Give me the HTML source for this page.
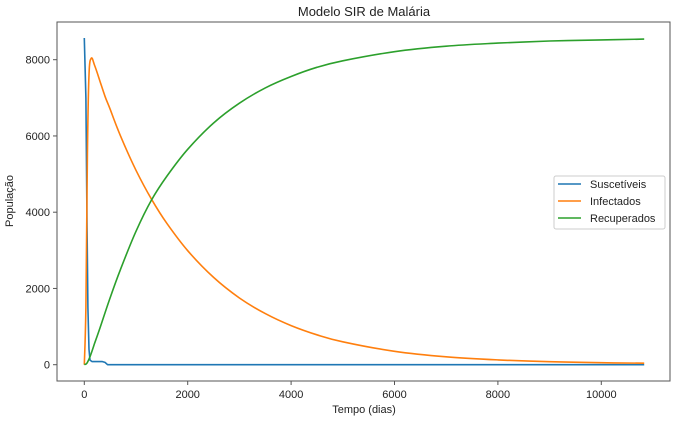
<!DOCTYPE html>
<html><head><meta charset="utf-8"><style>
body{margin:0;background:#fff;width:678px;height:419px;overflow:hidden}
text{font-family:"Liberation Sans","DejaVu Sans",sans-serif;fill:#222}
</style></head><body>
<svg id="chart" width="678" height="419" xmlns="http://www.w3.org/2000/svg">
<text x="364" y="16" text-anchor="middle" font-size="13">Modelo SIR de Malária</text>
<g id="plot"></g>
<rect x="57" y="22" width="613" height="359" fill="none" stroke="#555" stroke-width="1"/>
<text x="364" y="413" text-anchor="middle" font-size="11">Tempo (dias)</text>
<text transform="translate(13,201) rotate(-90)" text-anchor="middle" font-size="11">População</text>
<g>
<rect x="554" y="176" width="111" height="53" rx="2" fill="#fff" stroke="#ccc"/>
<line x1="558" x2="581" y1="184" y2="184" stroke="#1f77b4" stroke-width="1.5"/>
<text x="590" y="188" font-size="11">Suscetíveis</text>
<line x1="558" x2="581" y1="201" y2="201" stroke="#ff7f0e" stroke-width="1.5"/>
<text x="590" y="205" font-size="11">Infectados</text>
<line x1="558" x2="581" y1="218" y2="218" stroke="#2ca02c" stroke-width="1.5"/>
<text x="590" y="222" font-size="11">Recuperados</text>
</g>
</svg>
<script>
const xTicks=[0,2000,4000,6000,8000,10000];
const yTicks=[0,2000,4000,6000,8000];
const tS=[0,30,50,70,90,110,150,350,400,450,10830];
const vS=[8570,7000,4000,1500,400,120,80,80,60,0,0];
const tI=[0,30,60,90,136,200,300,400,500,700,1000,1300,1600,2000,2500,3000,3500,4000,4500,5000,6000,7000,8000,9000,10000,10830];
const vI=[0,1500,5500,7600,8040,7850,7450,7040,6700,6000,5100,4340,3700,2990,2290,1750,1340,1025,785,600,352,206,125,78,52,40];
const tR=[0,50,110,200,300,500,700,1000,1300,1600,2000,2500,3000,3500,4000,4500,5000,6000,7000,8000,9000,10000,10830];
const vR=[0,40,210,560,950,1760,2500,3500,4320,4950,5650,6340,6860,7260,7560,7800,7970,8210,8355,8435,8490,8520,8540];
const X=t=>84.3+t*0.0517;
const Y=v=>364.7-v*0.038125;
const NS="http://www.w3.org/2000/svg";
const svg=document.getElementById('chart');
const plot=document.getElementById('plot');
xTicks.forEach(t=>{
  const l=document.createElementNS(NS,'line');
  l.setAttribute('x1',X(t));l.setAttribute('x2',X(t));l.setAttribute('y1',381);l.setAttribute('y2',385);l.setAttribute('stroke','#555');
  
  
  svg.appendChild(l);
  const tx=document.createElementNS(NS,'text');
  tx.setAttribute('x',X(t));tx.setAttribute('y',398);tx.setAttribute('text-anchor','middle');tx.setAttribute('font-size','11');tx.textContent=t;
  
  
  svg.appendChild(tx);
});
yTicks.forEach(v=>{
  const l=document.createElementNS(NS,'line');
  l.setAttribute('x1',53);l.setAttribute('x2',57);l.setAttribute('y1',Y(v));l.setAttribute('y2',Y(v));l.setAttribute('stroke','#555');
  
  
  svg.appendChild(l);
  const tx=document.createElementNS(NS,'text');
  tx.setAttribute('x',50);tx.setAttribute('y',Y(v)+4);tx.setAttribute('text-anchor','end');tx.setAttribute('font-size','11');tx.textContent=v;
  
  
  svg.appendChild(tx);
});
function smoothPath(pts){
  let d='M'+pts[0][0].toFixed(1)+','+pts[0][1].toFixed(1);
  for(let i=0;i<pts.length-1;i++){
    const p0=pts[Math.max(0,i-1)],p1=pts[i],p2=pts[i+1],p3=pts[Math.min(pts.length-1,i+2)];
    const c1=[p1[0]+(p2[0]-p0[0])/6,p1[1]+(p2[1]-p0[1])/6];
    const c2=[p2[0]-(p3[0]-p1[0])/6,p2[1]-(p3[1]-p1[1])/6];
    d+=' C'+c1[0].toFixed(1)+','+c1[1].toFixed(1)+' '+c2[0].toFixed(1)+','+c2[1].toFixed(1)+' '+p2[0].toFixed(1)+','+p2[1].toFixed(1);
  }
  return d;
}
function line(ts,vs,c,name,smooth){
  const pts=ts.map((t,i)=>[X(t),Y(vs[i])]);
  const p=document.createElementNS(NS,'path');
  p.setAttribute('d',smooth?smoothPath(pts):'M'+pts.map(q=>q[0].toFixed(1)+','+q[1].toFixed(1)).join(' L'));
  p.setAttribute('fill','none');p.setAttribute('stroke',c);p.setAttribute('stroke-width','1.6');p.setAttribute('stroke-linejoin','round');
  
  
  plot.appendChild(p);
}
line(tS,vS,'#1f77b4','line-suscetiveis',false);
line(tI,vI,'#ff7f0e','line-infectados',true);
line(tR,vR,'#2ca02c','line-recuperados',true);
</script>
</body></html>
